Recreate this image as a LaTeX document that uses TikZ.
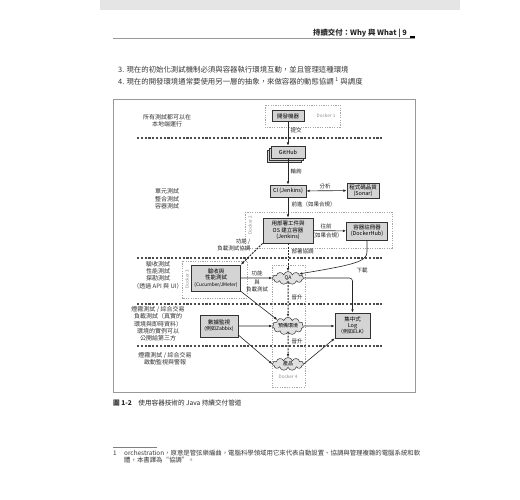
\documentclass[tikz,border=0pt]{standalone}
\usepackage{fontspec}
\setmainfont{Noto Sans CJK TC}
\usetikzlibrary{positioning,arrows.meta,shapes.symbols}
\newcommand{\fsz}[2]{\fontsize{#1pt}{#2pt}\selectfont}

\begin{document}
\begin{tikzpicture}[x=1pt,y=-1pt,
  >={Latex[length=3.2pt,width=2.6pt]},
  box/.style={draw=black!80,fill=black!17,line width=0.8pt,align=center,inner sep=1pt,font=\fsz{5.5}{6.3}},
  cld/.style={cloud,cloud puffs=11,aspect=2.4,draw=black!80,fill=black!12,line width=0.5pt,inner sep=0pt,minimum width=31pt,minimum height=13pt,font=\fsz{5}{6}},
  dock/.style={draw=black!35,line width=0.5pt,dash pattern=on 1.2pt off 1.2pt},
  dlbl/.style={text=black!45,font=\fsz{4.6}{5},inner sep=0pt},
  sep/.style={draw=black!70,line width=1.1pt,dash pattern=on 2.2pt off 1.6pt},
  flow/.style={->,line width=0.6pt,draw=black!85},
  coord/.style={flow,line width=1pt,dash pattern=on 2pt off 1.2pt},
  lbl/.style={font=\fsz{5.5}{6.3},inner sep=0.5pt,text=black!85},
  side/.style={align=center,font=\fsz{6}{7.3},text=black!80},
  page/.style={anchor=west,inner sep=0pt,text=black!78},
]
\fill[white] (0,0) rectangle (520,500);
\useasboundingbox (0,0) rectangle (520,500);

% page head
\fill[black!10] (100,0) rectangle (460,10);
\node[anchor=east,font=\fsz{7.4}{8}\bfseries,inner sep=0pt,text=black!85] (head) at (407,33) {持續交付：Why 與 What | 9};
\draw[black!40,line width=0.8pt] (113,38.5) -- (415,38.5);
\fill[black] (410,36) rectangle (415,38.5);

% list items
\node[page,font=\fsz{7.4}{8}] (item3) at (118,70) {3. 現在的初始化測試機制必須與容器執行環境互動，並且管理這種環境};
\node[page,font=\fsz{7.4}{8}] (item4) at (118,81) {4. 現在的開發環境通常要使用另一層的抽象，來做容器的動態協調 \textsuperscript{1} 與調度};

% figure frame
\draw[black!40,line width=0.6pt] (113,392) -- (113,99) -- (415,99) -- (415,392) -- cycle;

% stage separators
\foreach \y in {138,258,304,346} \draw[sep] (137,\y) -- (382,\y);

% docker regions
\draw[dock] (265,105) rectangle (340,127);
\node[dlbl] (d1) at (326,116) {Docker 1};
\draw[dock] (245,212) rectangle (392,248);
\node[dlbl,rotate=90] (d2) at (250,225) {Docker 2};
\draw[dock] (182,261) rectangle (247,298);
\node[dlbl,rotate=90] (d3) at (187,279) {Docker 3};
\draw[dock] (272,265) rectangle (305,387);
\node[dlbl] (d4) at (288,377) {Docker 4};

% side notes
\node[side] (n1) at (167,121) {所有測試都可以在\\本地端運行};
\node[side] (n2) at (167,199) {單元測試\\整合測試\\容器測試};
\node[side] (n3) at (158,275) {驗收測試\\性能測試\\探勘測試\\（透過 API 與 UI）};
\node[side] (n4) at (158,324) {煙霧測試 / 綜合交易\\負載測試（真實的\\環境與即時資料）\\環境的實例可以\\公開給第三方};
\node[side] (n5) at (165,359) {煙霧測試 / 綜合交易\\啟動監視與警報};

% pipeline
\node[box,minimum width=32pt,minimum height=11pt] (dev) at (288,116) {開發機器};
\foreach \o in {4,2} \node[box,minimum width=34pt,minimum height=12pt] (gh\o) at (288-\o,152+\o) {};
\node[box,minimum width=34pt,minimum height=12pt] (gh) at (288,152) {GitHub};
\node[box,minimum width=36pt,minimum height=12pt] (ci) at (288,191) {CI (Jenkins)};
\node[box,minimum width=32pt,minimum height=15pt] (sonar) at (363,190.5) {程式碼品質\\(Sonar)};
\node[box,minimum width=50pt,minimum height=25pt] (build) at (288,230.5) {用部署工件與\\OS 建立容器\\(Jenkins)};
\node[box,minimum width=41pt,minimum height=18pt] (registry) at (367,231) {容器註冊器\\(DockerHub)};
\node[box,minimum width=49pt,minimum height=26pt] (acc) at (216,278) {驗收與\\性能測試\\{\fsz{4.8}{6}(Cucumber/JMeter)}};
\node[box,minimum width=38pt,minimum height=22pt] (mon) at (219,326) {數據監視\\{\fsz{5}{6}(例如Zabbix)}};
\node[box,minimum width=35pt,minimum height=25pt] (log) at (352.5,325.5) {集中式\\Log\\{\fsz{5}{6}（例如ELK）}};
\node[cld] (qa) at (288,278) {QA};
\node[cld] (stage) at (288,326) {預備環境};
\node[cld] (prod) at (288,364) {產品};

% connectors
\draw[flow] (dev) -- (gh);
\node[lbl,anchor=west] (commit) at (290,130) {提交};
\draw[flow] (gh) -- (ci);
\node[lbl,anchor=west] (poll) at (290,171) {輪詢};
\draw[<->,line width=0.6pt,draw=black!85] (ci) -- (sonar);
\node[lbl] (analyse) at (325,186) {分析};
\draw[flow] (ci) -- (build);
\node[lbl,anchor=west] (fwd) at (291,204) {前進（如果合規）};
\draw[flow] (build) -- (registry);
\node[lbl] (push) at (326,226) {往前};
\node[lbl] (pushif) at (326,235.5) {（如果合規）};
\draw[coord] (build) -- (qa);
\node[lbl,anchor=west] (deploy) at (291,251) {部署協調};
\draw[coord] (build.south west) -- (acc.north east);
\node[lbl,align=right,anchor=east] (func) at (251,245) {功能 /\\負載測試協調};
\draw[flow] (registry.south) -- (367,252) .. controls (367,262) and (352,265) .. (qa.20);
\node[lbl] (pull) at (362,270) {下載};
\draw[flow] (acc) -- (qa);
\node[lbl,anchor=south] (load1) at (257,276.5) {功能};
\node[lbl,align=center,anchor=north] (load2) at (257,279.5) {與\\負載測試};
\draw[flow,rounded corners=3pt] (qa.east) -| (log.north);
\draw[coord] (qa) -- (stage);
\node[lbl,anchor=west] (prom1) at (291,297) {晉升};
\draw[flow] (acc.south east) -- (stage.150);
\draw[flow] (mon) -- (stage);
\draw[flow] (stage) -- (stage -| log.west);
\draw[flow] (mon.-25) -- (prod.west);
\draw[coord] (stage) -- (prod);
\node[lbl,anchor=west] (prom2) at (291,341) {晉升};
\draw[flow] (prod.east) -- (log.south west);

% caption
\node[page,font=\fsz{6.6}{8},text=black!85] (cap) at (113,403) {{\bfseries 圖 1-2}\quad 使用容器技術的 Java 持續交付管道};

% footnote
\draw[black!50,line width=0.4pt] (113,447) -- (157,447);
\node[page,font=\fsz{6.3}{7.5}] (fnum) at (113,453) {1};
\node[page,font=\fsz{6.4}{7.5}] (fn1) at (124,453) {orchestration，原意是管弦樂編曲，電腦科學領域用它來代表自動設置、協調與管理複雜的電腦系統和軟};
\node[page,font=\fsz{6.4}{7.5}] (fn2) at (124,460.5) {體，本書譯為“協調”。};
\end{tikzpicture}
\end{document}
